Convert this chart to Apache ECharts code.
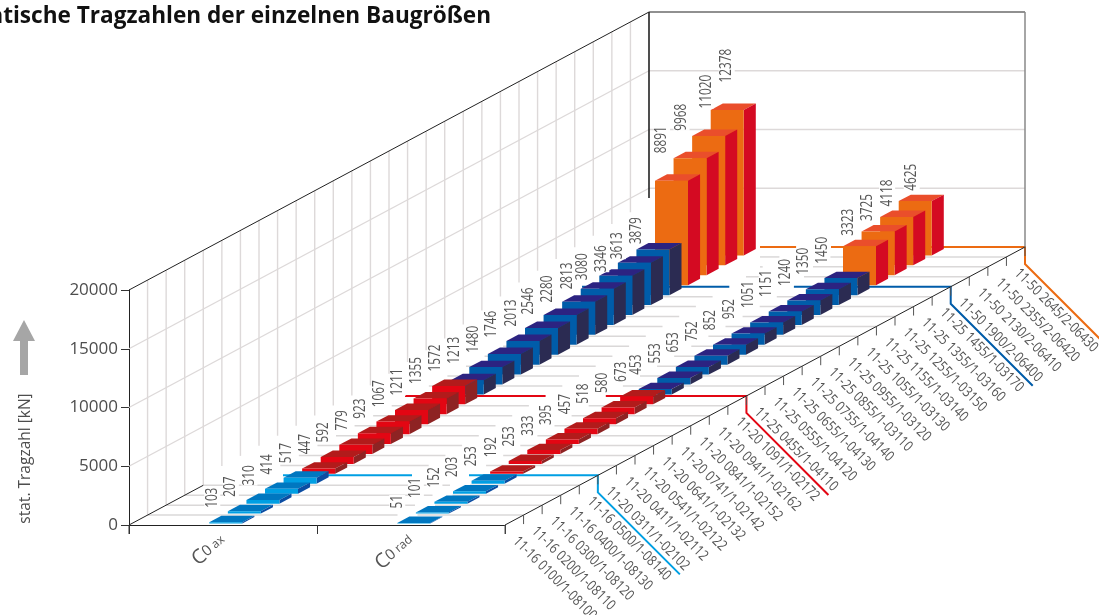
<!DOCTYPE html>
<html><head><meta charset="utf-8">
<style>html,body{margin:0;padding:0;background:#fff;overflow:hidden}#c{width:1099px;height:615px}</style>
<script src="https://cdn.jsdelivr.net/npm/echarts@6/dist/echarts.min.js"></script>
</head><body><div id="c"></div>
<script>
// ---- data ----
const rowCategories = ['C0 ax', 'C0 rad'];
const sizeLabels = [
 '11-16 0100/1-08100','11-16 0200/1-08110','11-16 0300/1-08120','11-16 0400/1-08130','11-16 0500/1-08140',
 '11-20 0311/1-02102','11-20 0411/1-02112','11-20 0541/1-02122','11-20 0641/1-02132','11-20 0741/1-02142','11-20 0841/1-02152','11-20 0941/1-02162','11-20 1091/1-02172',
 '11-25 0455/1-04110','11-25 0555/1-04120','11-25 0655/1-04130','11-25 0755/1-04140','11-25 0855/1-03110','11-25 0955/1-03120','11-25 1055/1-03130','11-25 1155/1-03140','11-25 1255/1-03150','11-25 1355/1-03160','11-25 1455/1-03170',
 '11-50 1900/2-06400','11-50 2130/2-06410','11-50 2355/2-06420','11-50 2645/2-06430'];
const c0ax = [103,207,310,414,517, 447,592,779,923,1067,1211,1355,1572, 1213,1480,1746,2013,2280,2546,2813,3080,3346,3613,3879, 8891,9968,11020,12378];
const c0rad = [51,101,152,203,253, 192,253,333,395,457,518,580,673, 453,553,653,752,852,952,1051,1151,1240,1350,1450, 3323,3725,4118,4625];
// the printed figures above the 18th and 19th C0 ax bars are transposed in the original
const c0axPrinted = [103,207,310,414,517, 447,592,779,923,1067,1211,1355,1572, 1213,1480,1746,2013,2546,2280,2813,3080,3346,3613,3879, 8891,9968,11020,12378];
const groupSizes = [5,8,11,4];
const yTicks = [0,5000,10000,15000,20000];

// ---- styling ----
const groupStyles = [
 {front:'#009FE3', top:'#0077C0', side:'#0B4DA2', line:'#009FE3', start:283},
 {front:'#E30613', top:'#B21B1B', side:'#8E2323', line:'#E30613', start:405},
 {front:'#005CA9', top:'#2C2381', side:'#2B2B52', line:'#005CA9', start:582},
 {front:'#EC6B12', top:'#EA4E2B', side:'#D40A22', line:'#EC6B12', start:760}
];
// label offset (dx, dy) from the bar's top-left, per row and group (a list gives one entry per bar of the group)
const labelOffsets = [
 [[3,8],[3,8],[[4,4,4,5,4,4,5,2,2,0,0],[10,8,10,8,7,6,6,2,-3,-3,-1]],[[7,8,14,16],21]],
 [[0,8],[1,8],[-2,8],[[6,6,7,13],4]]
];
const SLOTS = sizeLabels.length;
const DX = 520/188/SLOTS, DY = 278/235*20000/SLOTS;
const groupOf = i => { let s=0; for(let g=0;g<groupSizes.length;g++){s+=groupSizes[g]; if(i<s) return g;} return 3; };
const groupStart = g => groupSizes.slice(0,g).reduce((a,b)=>a+b,0);
const boundaries = groupSizes.reduce((a,n)=>{a.push((a.length?a[a.length-1]:0)+n);return a;},[]);
const P = (api,u,v,w)=>api.coord([u+v*DX, (w||0)+v*DY]);
const U = (x,v)=> (x-129)/188 - v*DX;     // screen x on floor line v -> width coordinate
const lift = v => {const t=[[4,0],[5,800],[13,900],[17,1500],[21,2900],[27,3800]];
  if(v<=4) return 0; for(let i=1;i<t.length;i++){ if(v<=t[i][0]){const a=t[i-1],b=t[i];return a[1]+(b[1]-a[1])*(v-a[0])/(b[0]-a[0]);}} return 3800;};
const gapL = v => v<5 ? 380+17.5*v : 412+16.7*(v-5);
const gapR = v => v<5 ? 400+17.5*v : (v<=24 ? 469+17.1*(v-5) : 795+9*(v-24));
const greyStart = v => v<5 ? 129+18.57*v : (v>=25 ? 760 : 206+18.57*(v-2));

function line(api,a,b,color,width){
  return {type:'line',shape:{x1:a[0],y1:a[1],x2:b[0],y2:b[1]},style:{stroke:color,lineWidth:width}};
}
function frame(params,api){
  const ch=[];
  const wallGrey='#DDD9D9', floorGrey='#DAD8D8';
  // left wall
  for(let v=1;v<SLOTS;v++) ch.push(line(api,P(api,0,v,lift(v)),P(api,0,v,20000),wallGrey,1.4));
  yTicks.slice(1,4).forEach(w=>{
    ch.push(line(api,P(api,0,0,w),P(api,0,SLOTS,w),wallGrey,1.4));
    ch.push(line(api,P(api,0,SLOTS,w),P(api,2,SLOTS,w),wallGrey,1.4));
  });
  // floor lines
  for(let v=1;v<SLOTS;v++){
    if(boundaries.includes(v)) continue;
    ch.push(line(api,P(api,U(greyStart(v),v),v),P(api,U(gapL(v),v),v),floorGrey,1.5));
    ch.push(line(api,P(api,U(gapR(v),v),v),P(api,2,v),floorGrey,1.5));
  }
  // coloured group lines with their brackets
  boundaries.forEach((v,g)=>{
    const s=groupStyles[g];
    ch.push(line(api,P(api,U(s.start,v),v),P(api,U(gapL(v),v),v),s.line,2));
    const e=P(api,2,v);
    ch.push({type:'polyline',shape:{points:[P(api,U(gapR(v),v),v),e,[e[0],e[1]+17],[e[0]+82,e[1]+99]]},
      style:{stroke:s.line,lineWidth:2,fill:null}});
  });
  // frame
  const k='#222';
  ch.push(line(api,P(api,0,0,20000),P(api,0,SLOTS,20000),k,1));
  ch.push(line(api,P(api,0,SLOTS,20000),P(api,2,SLOTS,20000),k,1.2));
  ch.push(line(api,P(api,0,SLOTS,20000),P(api,0,SLOTS,4170),k,1.6));
  ch.push(line(api,P(api,2,SLOTS,20000),P(api,2,SLOTS,0),'#888',1.5));
  ch.push(line(api,P(api,0,0),P(api,0,4),k,1));
  ch.push(line(api,P(api,2,0),P(api,2,SLOTS),k,1));
  // front-corner tick, depth ticks + size labels
  const p0=P(api,0,0); ch.push(line(api,p0,[p0[0],p0[1]+9],'#333',1));
  for(let v=0;v<=SLOTS;v++){
    const p=P(api,2,v);
    ch.push(line(api,p,[p[0],p[1]+9],'#555',1));
  }
  sizeLabels.forEach((t,i)=>{
    const p=P(api,2,i+0.5);
    ch.push({type:'text',x:p[0]+1,y:p[1]+19,rotation:-Math.PI/4,scaleX:0.83,
      style:{text:t,fill:'#555',font:'14.5px "Open Sans"',align:'left',verticalAlign:'middle'}});
  });
  return {type:'group',children:ch};
}
const HALF=16.5/188, V0=0.15, V1=0.8;
function bar(params,api){
  const r=api.value(0), i=api.value(1), val=api.value(2), s=groupStyles[api.value(3)];
  const c=r+0.5, l=c-HALF, h=c+HALF, a=i+V0, b=i+V1;
  const poly=(pts,col)=>({type:'polygon',shape:{points:pts},style:{fill:col,stroke:null}});
  return {type:'group',children:[
    poly([P(api,l,a,val),P(api,h,a,val),P(api,h,b,val),P(api,l,b,val)],s.top),
    poly([P(api,h,a,0),P(api,h,b,0),P(api,h,b,val),P(api,h,a,val)],s.side),
    poly([P(api,l,a,0),P(api,h,a,0),P(api,h,a,val),P(api,l,a,val)],s.front)
  ]};
}
function valueLabel(params,api){
  const r=api.value(0), i=api.value(1), val=api.value(2), g=api.value(3);
  const p=P(api,r+0.5-HALF,i+V1,val), o=labelOffsets[r][g];
  const q=P(api,r+0.5-HALF,i+V0,val);
  const pick=x=>Array.isArray(x) ? x[i-groupStart(g)] : x;
  const text=String(r===0 ? c0axPrinted[i] : val);
  return {type:'text',x:q[0]+pick(o[0]),y:p[1]-pick(o[1]),rotation:Math.PI/2,scaleX:0.76,
    style:{text:text,fill:'#555',font:'15.5px "Open Sans"',align:'left',verticalAlign:'middle',
      backgroundColor:'#fff'}};
}
const barData=[];
for(let i=SLOTS-1;i>=0;i--){
  barData.push([1,i,c0rad[i],groupOf(i)]);
  barData.push([0,i,c0ax[i],groupOf(i)]);
}
const chart=echarts.init(document.getElementById('c'),null,{renderer:'canvas'});
chart.setOption({
  animation:false,
  backgroundColor:'#fff',
  title:{text:'Statische Tragzahlen der einzelnen Baugrößen',left:486,top:0,textAlign:'right',
    textStyle:{fontFamily:'"Open Sans"',fontWeight:'bold',fontSize:22.6,color:'#111'}},
  grid:{left:129,top:290,width:376,height:235,containLabel:false,outerBoundsMode:'none'},
  xAxis:[
   {type:'category',data:rowCategories,boundaryGap:true,
    axisLine:{show:true,lineStyle:{color:'#222'}},
    axisTick:{show:true,alignWithLabel:false,length:9,lineStyle:{color:'#333'}},
    axisLabel:{rotate:40,margin:13,interval:0,
      formatter:v=>{const m=v.split(' ');return '{c|C}{o|0}{s| '+m[1]+'}';},
      rich:{c:{fontFamily:'"Open Sans"',fontSize:20,color:'#555'},
            o:{fontFamily:'"Open Sans"',fontSize:15,color:'#555'},
            s:{fontFamily:'"Open Sans"',fontSize:12,color:'#555'}}}},
   {type:'value',min:0,max:2,show:false}
  ],
  yAxis:[{type:'value',min:0,max:20000,interval:5000,
    axisLine:{show:true,lineStyle:{color:'#222'}},
    axisTick:{show:true,length:8,lineStyle:{color:'#333'}},
    splitLine:{show:false},
    axisLabel:{margin:11,color:'#4d4d4d',fontFamily:'"Open Sans"',fontSize:17,formatter:v=>String(v)},
    name:'stat. Tragzahl [kN]',nameLocation:'middle',nameGap:95,nameRotate:90,
    nameTextStyle:{color:'#4d4d4d',fontFamily:'"Open Sans"',fontSize:15.5,padding:[0,102,0,0]}
  }],
  graphic:[{type:'polygon',silent:true,shape:{points:[[24,320],[35,341],[28,341],[28,375],[20,375],[20,341],[13,341]]},style:{fill:'#A6A6A6'}}],
  series:[
   {type:'custom',xAxisIndex:1,yAxisIndex:0,data:[[0,0]],renderItem:frame,silent:true,z:1},
   {type:'custom',xAxisIndex:1,yAxisIndex:0,data:barData,renderItem:bar,silent:true,z:2,
    dimensions:['row','slot','value','group'],encode:{x:'row',y:'value'}},
   {type:'custom',xAxisIndex:1,yAxisIndex:0,data:barData,renderItem:valueLabel,silent:true,z:3,
    dimensions:['row','slot','value','group'],encode:{x:'row',y:'value'}},
   {type:'custom',xAxisIndex:0,yAxisIndex:0,data:[],renderItem:()=>null,silent:true}
  ]
});
</script></body></html>
